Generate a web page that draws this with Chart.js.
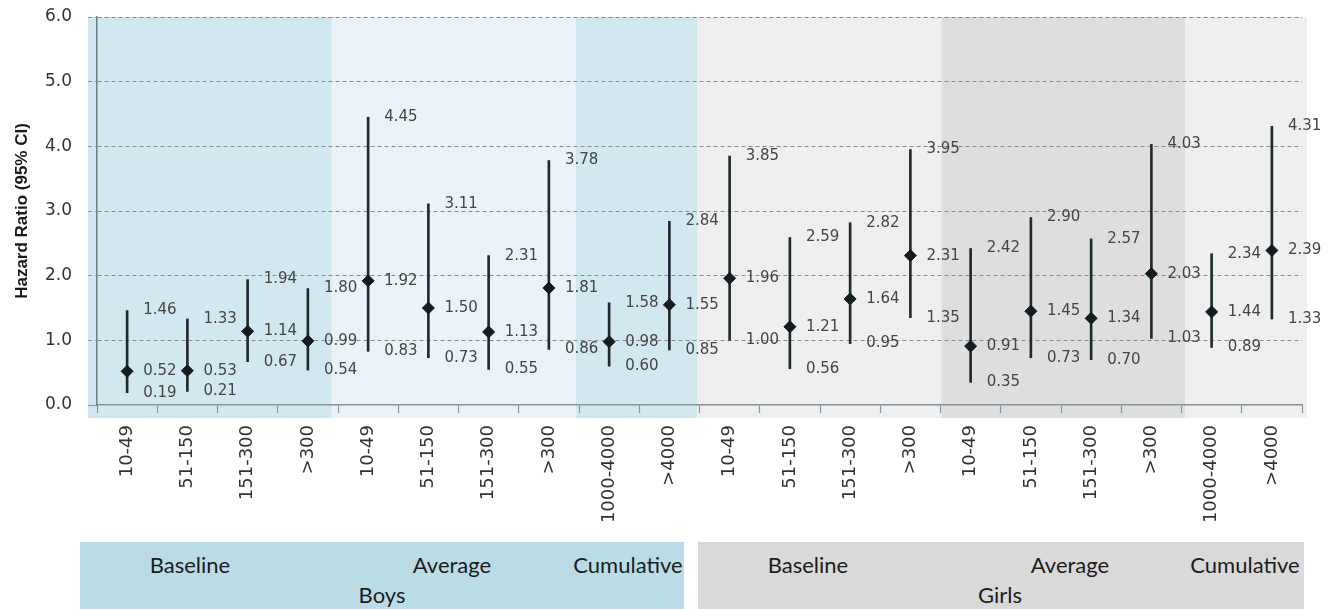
<!DOCTYPE html>
<html>
<head>
<meta charset="utf-8">
<script src="https://cdn.jsdelivr.net/npm/chart.js@4.4.1/dist/chart.umd.min.js"></script>
<style>
    body { margin: 0; background: #fff; }
    #wrap { position: relative; width: 1329px; height: 609px; overflow: hidden; }
    .panel { position: absolute; top: 542px; height: 70px; font-family: Lato, sans-serif; font-size: 22px; color: #1c1c1c; }
    .panel span { position: absolute; white-space: nowrap; transform: translate(-50%, -50%); }
</style>
</head>
<body>
<div id="wrap">
    <canvas id="mainChart"></canvas>
    <div class="panel" style="left:80px; width:604px; background:#b9dce7">
        <span style="left:110px; top:22px">Baseline</span>
        <span style="left:372px; top:22px">Average</span>
        <span style="left:548px; top:22px">Cumulative</span>
        <span style="left:302px; top:52px">Boys</span>
    </div>
    <div class="panel" style="left:698px; width:606px; background:#d9d9d9">
        <span style="left:110px; top:22px">Baseline</span>
        <span style="left:372px; top:22px">Average</span>
        <span style="left:547px; top:22px">Cumulative</span>
        <span style="left:302px; top:52px">Girls</span>
    </div>
</div>
<script>
// Data
const groupLabels = ['10-49', '51-150', '151-300', '>300', '10-49', '51-150', '151-300', '>300', '1000-4000', '>4000'];

const boysMean = [0.52, 0.53, 1.14, 0.99, 1.92, 1.50, 1.13, 1.81, 0.98, 1.55];
const boysLow  = [0.19, 0.21, 0.67, 0.54, 0.83, 0.73, 0.55, 0.86, 0.60, 0.85];
const boysHigh = [1.46, 1.33, 1.94, 1.80, 4.45, 3.11, 2.31, 3.78, 1.58, 2.84];

const girlsMean = [1.96, 1.21, 1.64, 2.31, 0.91, 1.45, 1.34, 2.03, 1.44, 2.39];
const girlsLow  = [1.00, 0.56, 0.95, 1.35, 0.35, 0.73, 0.70, 1.03, 0.89, 1.33];
const girlsHigh = [3.85, 2.59, 2.82, 3.95, 2.42, 2.90, 2.57, 4.03, 2.34, 4.31];

const yTicks = [0, 1, 2, 3, 4, 5, 6];

// background bands: [first category, last category + 1, colour]
const bands = [
    [0, 4, '#d2e8f0'],
    [4, 8, '#eaf4f8'],
    [8, 10, '#d2e8f0'],
    [10, 14, '#efefef'],
    [14, 18, '#dedede'],
    [18, 20, '#efefef']
];

const labels = groupLabels.concat(groupLabels);
const means = boysMean.concat(girlsMean);
const lows = boysLow.concat(girlsLow);
const highs = boysHigh.concat(girlsHigh);

const axisGray = '#86959b';

// Plugins
const bandPlugin = {
    id: 'bands',
    beforeDraw(chart) {
        const { ctx, chartArea } = chart;
        const n = labels.length;
        const x0 = chartArea.left - 9;
        const step = (chartArea.right - chartArea.left + 14) / n;
        ctx.save();
        bands.forEach(([a, b, color]) => {
            ctx.fillStyle = color;
            ctx.fillRect(x0 + a * step, chartArea.top, (b - a) * step, chartArea.bottom - chartArea.top + 13);
        });
        ctx.restore();
    }
};

const valueLabelPlugin = {
    id: 'valueLabels',
    afterDatasetsDraw(chart) {
        const { ctx, scales } = chart;
        ctx.save();
        ctx.font = '15px "DejaVu Sans"';
        ctx.fillStyle = '#454545';
        ctx.textAlign = 'left';
        ctx.textBaseline = 'middle';
        labels.forEach((_, i) => {
            const x = scales.x.getPixelForValue(i) + 16;
            [highs[i], means[i], lows[i]].forEach(v => {
                ctx.fillText(v.toFixed(2), x, scales.y.getPixelForValue(v));
            });
        });
        ctx.restore();
    }
};

// Chart
const ctx = document.getElementById('mainChart').getContext('2d');
new Chart(ctx, {
    type: 'bar',
    data: {
        labels: labels,
        datasets: [
            {
                type: 'line',
                data: means,
                showLine: false,
                pointStyle: 'rectRot',
                pointRadius: 6,
                backgroundColor: '#141c1f',
                borderColor: '#141c1f',
                order: 0
            },
            {
                data: lows.map((l, i) => [l, highs[i]]),
                backgroundColor: '#1f2a2e',
                barThickness: 2,
                order: 1
            }
        ]
    },
    options: {
        responsive: true,
        maintainAspectRatio: false,
        animation: false,
        layout: { padding: { top: 17, right: 27, left: 12, bottom: 0 } },
        plugins: {
            legend: { display: false },
            tooltip: { enabled: false }
        },
        scales: {
            x: {
                offset: true,
                afterFit: scale => { scale.height = 204; scale.paddingTop = 0; },
                grid: {
                    offset: true,
                    drawOnChartArea: false,
                    tickLength: 8,
                    tickColor: axisGray,
                    tickWidth: 1.2
                },
                border: { color: axisGray, width: 1.5 },
                ticks: {
                    autoSkip: false,
                    minRotation: 90,
                    maxRotation: 90,
                    padding: 12,
                    color: '#333',
                    font: { family: 'DejaVu Sans', size: 18 }
                }
            },
            y: {
                min: 0,
                max: 6,
                afterFit: scale => { scale.width = 85; scale.paddingTop = 0; scale.paddingBottom = 0; },
                afterBuildTicks: scale => { scale.ticks = yTicks.map(v => ({ value: v })); },
                grid: {
                    color: c => c.tick && c.tick.value === 0 ? 'transparent' : '#8a8a8a',
                    tickColor: axisGray,
                    tickLength: 9,
                    tickBorderDash: c => c.tick && c.tick.value === 0 ? [] : [4, 3]
                },
                border: { color: '#6f7f85', width: 1.5, dash: [4, 3] },
                ticks: {
                    padding: 16,
                    color: '#333',
                    font: { family: 'DejaVu Sans', size: 17 },
                    callback: v => Number(v).toFixed(1)
                },
                title: {
                    display: true,
                    text: 'Hazard Ratio (95% CI)',
                    color: '#1a1a1a',
                    padding: 0,
                    font: { family: 'Liberation Sans', size: 17, weight: 'bold' }
                }
            }
        }
    },
    plugins: [bandPlugin, valueLabelPlugin]
});
</script>
</body>
</html>
